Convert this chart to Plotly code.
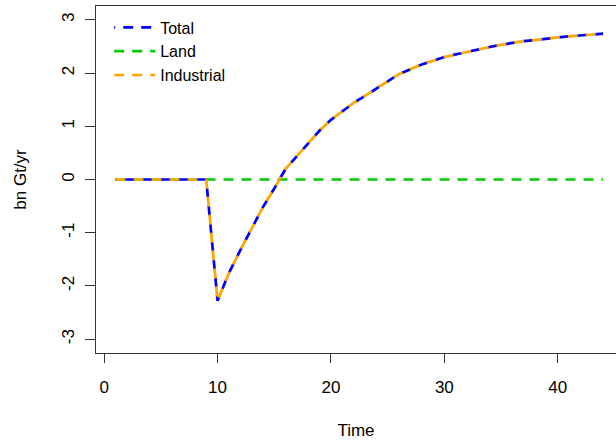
import plotly.graph_objects as go

time = [1, 2, 3, 4, 5, 6, 7, 8, 9, 10, 11, 12, 13, 14, 15, 16, 17, 18, 19, 20, 21, 22,
        23, 24, 25, 26, 27, 28, 29, 30, 31, 32, 33, 34, 35, 36, 37, 38, 39, 40, 41, 42, 43, 44]

total = [0, 0, 0, 0, 0, 0, 0, 0, 0,
         -2.28, -1.76, -1.33, -0.91, -0.52, -0.17, 0.20, 0.44, 0.69, 0.92, 1.12,
         1.28, 1.44, 1.57, 1.71, 1.85, 1.98, 2.07, 2.16, 2.23, 2.30, 2.35, 2.40,
         2.44, 2.49, 2.53, 2.57, 2.60, 2.62, 2.65, 2.67, 2.69, 2.71, 2.73, 2.74]

land = [0, 0, 0, 0, 0, 0, 0, 0, 0, 0, 0, 0, 0, 0, 0, 0, 0, 0, 0, 0, 0, 0,
        0, 0, 0, 0, 0, 0, 0, 0, 0, 0, 0, 0, 0, 0, 0, 0, 0, 0, 0, 0, 0, 0]

industrial = [0, 0, 0, 0, 0, 0, 0, 0, 0,
              -2.28, -1.76, -1.33, -0.91, -0.52, -0.17, 0.20, 0.44, 0.69, 0.92, 1.12,
              1.28, 1.44, 1.57, 1.71, 1.85, 1.98, 2.07, 2.16, 2.23, 2.30, 2.35, 2.40,
              2.44, 2.49, 2.53, 2.57, 2.60, 2.62, 2.65, 2.67, 2.69, 2.71, 2.73, 2.74]

x_ticks = [0, 10, 20, 30, 40]
y_ticks = [-3, -2, -1, 0, 1, 2, 3]
y_tick_labels = ["-3", "-2", "-1", "0", "1", "2", "3"]

FONT = "Liberation Sans, Arial, sans-serif"
LW = 2.7

fig = go.Figure()
fig.add_trace(go.Scatter(x=time, y=land, mode="lines", name="Land", legendrank=2,
                         line=dict(color="#00CD00", width=LW, dash="10px,8px")))
fig.add_trace(go.Scatter(x=time, y=total, mode="lines", name="Total", legendrank=1,
                         line=dict(color="#0000FF", width=LW, dash="1px,8px,9px,0px")))
fig.add_trace(go.Scatter(x=time, y=industrial, mode="lines", name="Industrial", legendrank=3,
                         line=dict(color="#FFA500", width=LW, dash="10px,8px")))

fig.update_layout(
    width=616, height=442,
    margin=dict(l=96, r=0, t=6, b=89),
    plot_bgcolor="white", paper_bgcolor="white",
    font=dict(family=FONT, size=17, color="#000"),
    showlegend=True,
    legend=dict(x=0.0254, y=0.987, xanchor="left", yanchor="top",
                bgcolor="rgba(0,0,0,0)", itemwidth=41,
                font=dict(family=FONT, size=16, color="#000"),
                traceorder="normal"),
    xaxis=dict(range=[-0.72, 45.14], tickvals=x_ticks, ticks="outside", ticklen=9,
               tickcolor="#333", showline=True, linecolor="#333", linewidth=1,
               mirror=True, showgrid=False, zeroline=False, automargin=False,
               ticklabelstandoff=10,
               title=dict(text="Time", standoff=27, font=dict(size=17))),
    yaxis=dict(range=[-3.26, 3.26], tickvals=y_ticks, ticktext=y_tick_labels,
               ticks="outside", ticklen=10,
               tickcolor="#333", showline=True, linecolor="#333", linewidth=1,
               mirror=False, showgrid=False, zeroline=False, tickangle=-90,
               automargin=False, ticklabelstandoff=4,
               title=dict(text="bn Gt/yr", standoff=28, font=dict(size=17))),
)

fig.write_html("out.html", config={"displayModeBar": False},
               post_script="document.body.style.margin='0';")
